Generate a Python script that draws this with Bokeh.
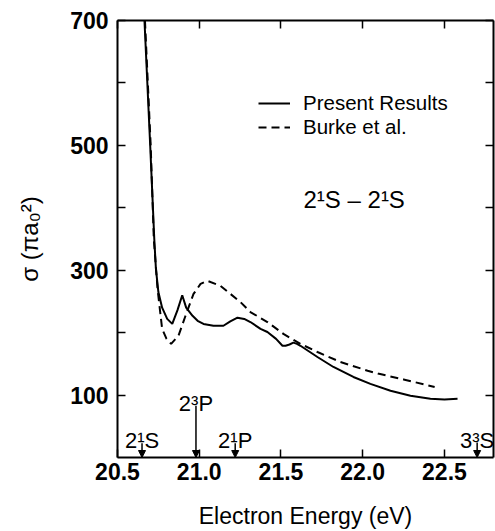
import numpy as np
from bokeh.plotting import figure
from bokeh.models import (Range1d, LinearAxis, FixedTicker, Label, Legend, LegendItem,
                          Arrow, NormalHead, ColumnDataSource, PrintfTickFormatter)
from bokeh.embed import file_html
from bokeh.resources import INLINE
from bokeh.core.properties import value

# ---------------- data ----------------
present_energy = [20.665, 20.700, 20.715, 20.725, 20.735, 20.750, 20.773, 20.804, 20.835, 20.867,
                  20.896, 20.920, 20.959, 20.990, 21.026, 21.087, 21.148, 21.190, 21.234,
                  21.275, 21.313, 21.375, 21.417, 21.470, 21.509, 21.528, 21.552, 21.576,
                  21.598, 21.619, 21.723, 21.821, 21.943, 22.047, 22.170, 22.292, 22.414,
                  22.500, 22.580]
present_sigma = [700, 500, 410, 350, 302, 265, 240, 222, 214, 236,
                 260, 240, 227, 219, 214, 211, 211, 218, 224,
                 222, 217, 206, 201, 190, 179, 179, 181, 184,
                 182, 179, 161, 145, 129, 118, 107, 99, 94,
                 93, 94]

burke_energy = [20.668, 20.703, 20.722, 20.745, 20.773, 20.800, 20.828, 20.873, 20.916,
                20.965, 21.008, 21.050, 21.130, 21.252, 21.313, 21.417, 21.515, 21.619,
                21.723, 21.864, 22.030, 22.100, 22.250, 22.440]
burke_sigma = [700, 500, 350, 270, 206, 190, 182, 195, 227,
               262, 278, 283, 275, 249, 233, 217, 198, 182,
               169, 153, 139, 134, 125, 113]

threshold_names = ["2¹S", "2³P", "2¹P", "3³S"]
threshold_energy = [20.65, 20.98, 21.22, 22.70]
threshold_arrow_top = [23, 83, 23, 24]

x_ticks = [20.5, 21.0, 21.5, 22.0, 22.5]
y_ticks = [100, 200, 300, 400, 500, 600, 700]
y_tick_labels = ["100", "", "300", "", "500", "", "700"]

series_names = ["Present Results", "Burke et al."]
transition_text = "2¹S – 2¹S"
x_title = "Electron Energy (eV)"
y_title = "σ (πa₀²)"

FONT = "Liberation Sans"

# ---------------- layout geometry ----------------
W, H = 495, 531
BL, BR, BT, BB = 117, 2, 20, 72
X0, X1 = 20.5, 22.8
Y0, Y1 = 0, 700
FW, FH = W - BL - BR, H - BT - BB


def X(px):
    return X0 + (px - BL) * (X1 - X0) / FW


def Y(py):
    return Y0 + (BT + FH - py) * (Y1 - Y0) / FH


p = figure(width=W, height=H, output_backend="svg", toolbar_location=None,
           x_range=Range1d(X0, X1), y_range=Range1d(Y0, Y1),
           min_border_left=BL, min_border_right=BR, min_border_top=BT, min_border_bottom=BB,
           x_axis_location=None, y_axis_location=None)
p.grid.visible = False
p.outline_line_color = None
p.background_fill_color = "white"
p.border_fill_color = "white"


def style_axis(ax, show_labels):
    ax.major_tick_in = 8
    ax.major_tick_out = 0
    ax.minor_tick_in = 0
    ax.minor_tick_out = 0
    ax.axis_line_width = 2
    ax.axis_line_color = "black"
    ax.major_tick_line_width = 1.5
    ax.major_tick_line_color = "black"
    if show_labels:
        ax.major_label_text_font = FONT
        ax.major_label_text_font_size = "23px"
        ax.major_label_text_font_style = "bold"
        ax.major_label_text_color = "black"
        ax.axis_label_text_font = FONT
        ax.axis_label_text_font_style = "normal"
        ax.axis_label_text_color = "black"
    else:
        ax.major_label_text_font_size = "0px"
        ax.major_label_text_alpha = 0
        ax.major_label_standoff = 0


xb = LinearAxis(ticker=FixedTicker(ticks=x_ticks), formatter=PrintfTickFormatter(format="%.1f"))
style_axis(xb, True)
xb.major_label_standoff = 5
xb.axis_label = x_title
xb.axis_label_text_font_size = "23px"
xb.axis_label_standoff = 20
p.add_layout(xb, "below")

yl = LinearAxis(ticker=FixedTicker(ticks=y_ticks))
yl.major_label_overrides = {t: s for t, s in zip(y_ticks, y_tick_labels)}
style_axis(yl, True)
yl.major_label_standoff = 9
yl.axis_label = y_title
yl.axis_label_text_font_size = "24px"
yl.axis_label_standoff = 24
p.add_layout(yl, "left")

xt = LinearAxis(ticker=FixedTicker(ticks=x_ticks))
style_axis(xt, False)
p.add_layout(xt, "above")

yr = LinearAxis(ticker=FixedTicker(ticks=y_ticks))
style_axis(yr, False)
p.add_layout(yr, "right")

# ---------------- curves ----------------
r1 = p.line(present_energy, present_sigma, line_color="black", line_width=2)
r2 = p.line(burke_energy, burke_sigma, line_color="black", line_width=2, line_dash="8 5")

legend = Legend(items=[LegendItem(label=series_names[0], renderers=[r1]),
                       LegendItem(label=series_names[1], renderers=[r2])],
                location=(141, 318), glyph_width=32, glyph_height=20, label_height=20,
                label_standoff=13, spacing=0, padding=0, margin=0,
                border_line_alpha=0, background_fill_alpha=0,
                label_text_font=FONT, label_text_font_size="20.5px", label_text_color="black")
p.add_layout(legend)

# ---------------- threshold arrows ----------------
src = ColumnDataSource(dict(x=threshold_energy, top=threshold_arrow_top,
                            bottom=[Y0] * len(threshold_energy),
                            ly=[t + 4 for t in threshold_arrow_top],
                            name=threshold_names))
p.add_layout(Arrow(end=NormalHead(size=7, fill_color="black", line_color="black", line_width=1),
                   x_start="x", y_start="top", x_end="x", y_end="bottom", source=src,
                   line_width=1.5, line_color="black"))
p.text(x="x", y="ly", text="name", source=src, text_align="center", text_baseline="alphabetic",
       text_font=value(FONT), text_font_size="22px", text_color="black")

# ---------------- annotation ----------------
p.add_layout(Label(x=X(303), y=Y(200), text=transition_text, text_font=FONT,
                   text_font_size="24px", text_baseline="alphabetic", text_color="black"))

open("out.html", "w").write(file_html(p, INLINE))
